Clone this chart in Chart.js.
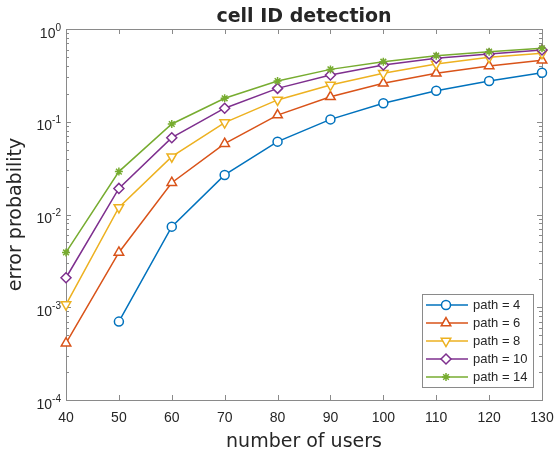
<!DOCTYPE html>
<html>
<head>
<meta charset="utf-8">
<script src="https://cdn.jsdelivr.net/npm/chart.js"></script>
<style>
  html, body { margin: 0; padding: 0; background: #ffffff; }
  canvas { display: block; }
</style>
</head>
<body>
<canvas id="errChart" width="555" height="457"></canvas>
<script>
// number of users on the x axis
const users = [40, 50, 60, 70, 80, 90, 100, 110, 120, 130];

// error probability per path count
const path4  = [null, 7.0e-4, 7.4e-3, 0.0267, 0.061, 0.106, 0.158, 0.216, 0.275, 0.338];
const path6  = [4.1e-4, 3.9e-3, 0.022, 0.058, 0.118, 0.186, 0.26, 0.333, 0.40, 0.46];
const path8  = [1.07e-3, 0.0119, 0.042, 0.098, 0.172, 0.249, 0.333, 0.42, 0.495, 0.547];
const path10 = [2.08e-3, 0.0191, 0.0673, 0.14, 0.229, 0.319, 0.409, 0.483, 0.537, 0.594];
const path14 = [3.9e-3, 0.029, 0.0946, 0.179, 0.275, 0.367, 0.444, 0.516, 0.57, 0.619];

const seriesNames = ['path = 4', 'path = 6', 'path = 8', 'path = 10', 'path = 14'];
const yTickExps = [0, -1, -2, -3, -4];

// matlab default line colours
const colors = ['#0072BD', '#D95319', '#EDB120', '#7E2F8E', '#77AC30'];
const markers = [
    { style: 'circle',   radius: 4.5, rotation: 0 },
    { style: 'triangle', radius: 5.5, rotation: 0 },
    { style: 'triangle', radius: 5.5, rotation: 180 },
    { style: 'rectRot',  radius: 5,   rotation: 0 },
    { style: 'star',     radius: 4,   rotation: 0 }
];
const textColor = '#262626';
const axisColor = '#8a8a8a';

const allSeries = [path4, path6, path8, path10, path14];

const datasets = allSeries.map((vals, i) => ({
    label: seriesNames[i],
    data: users.map((u, k) => ({ x: u, y: vals[k] })),
    borderColor: colors[i],
    backgroundColor: colors[i],
    borderWidth: 1.5,
    tension: 0,
    fill: false,
    pointStyle: markers[i].style,
    pointRadius: markers[i].radius,
    pointRotation: markers[i].rotation,
    pointBorderColor: colors[i],
    pointBackgroundColor: '#ffffff',
    pointBorderWidth: 1.5,
    clip: false,
    order: allSeries.length - i   // later series on top like matlab
}));

// inward ticks + box, drawn like a matlab axes
const axesBox = {
    id: 'axesBox',
    beforeDatasetsDraw(chart) {
        const { ctx, chartArea: a, scales } = chart;
        const xs = scales.x, ys = scales.y;
        ctx.save();
        ctx.strokeStyle = axisColor;
        ctx.lineWidth = 1;
        ctx.beginPath();
        // x ticks top and bottom
        users.forEach(u => {
            const px = Math.round(xs.getPixelForValue(u)) + 0.5;
            ctx.moveTo(px, a.bottom); ctx.lineTo(px, a.bottom - 5);
            ctx.moveTo(px, a.top); ctx.lineTo(px, a.top + 5);
        });
        // y major and minor ticks, both sides
        for (let e = -4; e <= 0; e++) {
            for (let m = 1; m <= 9; m++) {
                const v = m * Math.pow(10, e);
                if (v > 1) break;
                const py = Math.round(ys.getPixelForValue(v)) + 0.5;
                const len = m === 1 ? 5 : 3;
                ctx.moveTo(a.left, py); ctx.lineTo(a.left + len, py);
                ctx.moveTo(a.right, py); ctx.lineTo(a.right - len, py);
            }
        }
        ctx.stroke();
        ctx.strokeRect(Math.round(a.left) + 0.5, Math.round(a.top) + 0.5,
            Math.round(a.right - a.left), Math.round(a.bottom - a.top));

        // y tick labels 10^n with raised exponent
        ctx.fillStyle = textColor;
        ctx.textAlign = 'right';
        ctx.textBaseline = 'alphabetic';
        yTickExps.forEach(e => {
            const py = ys.getPixelForValue(Math.pow(10, e));
            const expStr = e === 0 ? '0' : '-' + Math.abs(e);
            ctx.font = '10px "Liberation Sans", Arial, sans-serif';
            const ew = ctx.measureText(expStr).width;
            ctx.fillText(expStr, 61, py + 1.5);
            ctx.font = '14px "Liberation Sans", Arial, sans-serif';
            ctx.fillText('10', 61 - ew, py + 8.7);
        });
        ctx.restore();
    }
};

// legend box in lower right, matlab style
const boxLegend = {
    id: 'boxLegend',
    afterDraw(chart) {
        const { ctx } = chart;
        const bx = 422, by = 294, bw = 111, bh = 93;
        ctx.save();
        ctx.fillStyle = '#ffffff';
        ctx.fillRect(bx, by, bw, bh);
        ctx.strokeStyle = axisColor;
        ctx.lineWidth = 1;
        ctx.strokeRect(bx + 0.5, by + 0.5, bw, bh);
        const drawPoint = Chart.helpers && Chart.helpers.drawPoint;
        chart.data.datasets.forEach((ds, i) => {
            const y = by + 11 + i * 18;
            ctx.strokeStyle = ds.borderColor;
            ctx.lineWidth = 1.5;
            ctx.beginPath();
            ctx.moveTo(426, y); ctx.lineTo(468, y);
            ctx.stroke();
            if (drawPoint) {
                ctx.fillStyle = '#ffffff';
                drawPoint(ctx, { pointStyle: ds.pointStyle, radius: ds.pointRadius, rotation: ds.pointRotation, borderWidth: 1.5 }, 446, y);
            }
            ctx.fillStyle = textColor;
            ctx.font = '13px "Liberation Sans", Arial, sans-serif';
            ctx.textAlign = 'left';
            ctx.textBaseline = 'middle';
            ctx.fillText(ds.label, 473, y + 0.5);
        });
        ctx.restore();
    }
};

const ctx = document.getElementById('errChart').getContext('2d');
new Chart(ctx, {
    type: 'line',
    data: { datasets },
    options: {
        responsive: false,
        animation: false,
        devicePixelRatio: 1,
        layout: { padding: { left: 0, right: 13, top: 0, bottom: 0 } },
        scales: {
            x: {
                type: 'linear',
                min: 40, max: 130,
                grid: { display: false, drawTicks: false },
                border: { display: false },
                ticks: {
                    stepSize: 10,
                    padding: 10,
                    color: textColor,
                    font: { family: '"Liberation Sans", Arial, sans-serif', size: 14 },
                    maxRotation: 0
                },
                title: {
                    display: true,
                    text: 'number of users',
                    color: textColor,
                    font: { family: '"DejaVu Sans", sans-serif', size: 19, lineHeight: 1 },
                    padding: { top: 0, bottom: 5 }
                },
                afterFit: s => { s.height = 57; s.paddingLeft = 0; s.paddingRight = 0; }
            },
            y: {
                type: 'logarithmic',
                min: 1e-4, max: 1,
                grid: { display: false, drawTicks: false },
                border: { display: false },
                ticks: { display: false },
                title: {
                    display: true,
                    text: 'error probability',
                    color: textColor,
                    font: { family: '"DejaVu Sans", sans-serif', size: 19, lineHeight: 1 },
                    padding: { top: 7, bottom: 0 }
                },
                afterFit: s => { s.width = 66; s.paddingTop = 0; s.paddingBottom = 0; }
            }
        },
        plugins: {
            legend: { display: false },
            tooltip: { enabled: false },
            title: {
                display: true,
                fullSize: false,   // centre over the plot box, not the canvas
                text: 'cell ID detection',
                color: textColor,
                font: { family: '"DejaVu Sans", sans-serif', size: 19, weight: 'bold', lineHeight: 1 },
                padding: { top: 8, bottom: 2 }
            }
        }
    },
    plugins: [axesBox, boxLegend]
});
</script>
</body>
</html>
